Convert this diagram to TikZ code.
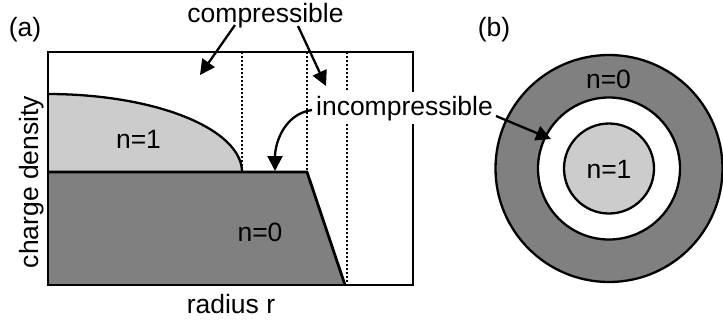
\documentclass[tikz,border=0pt]{standalone}
\usepackage{fontspec}
\setmainfont{Liberation Sans}
\usetikzlibrary{arrows.meta}
\definecolor{darkfill}{HTML}{808080}
\definecolor{lightfill}{HTML}{CCCCCC}
\begin{document}
\begin{tikzpicture}[x=1pt,y=-1pt,
  lbl/.style={inner sep=0pt, font=\fontsize{26.5}{30}\selectfont, anchor=base},
  arr/.style={line width=2.3pt, -{Triangle[length=15pt,width=15pt]}},
  dots/.style={line width=2.3pt, dash pattern=on 2pt off 2pt},
  edgeline/.style={line width=2.8pt},
  ring/.style={line width=2.3pt, draw=black}
]
\useasboundingbox (0,0) rectangle (723,322);

% ---------- panel (a) ----------
\fill[darkfill] (48,172) -- (307,172) -- (345,285) -- (48,285) -- cycle;
\fill[lightfill] plot[domain=0:90, samples=80] ({48+194*sin(\x)},{172-78*cos(\x)}) -- (48,172) -- cycle;
\draw[line width=2.3pt] plot[domain=0:90, samples=80] ({48+194*sin(\x)},{172-78*cos(\x)});
\draw[edgeline, line join=miter] (48,172) -- (307,172) -- (345,285);

\draw[dots] (242,52) -- (242,172);
\draw[dots] (307,52) -- (307,172);
\draw[dots] (347,52) -- (347,285);

\draw[edgeline] (48,52) rectangle (413,285);

\node[lbl] (alabel) at (25,36.5) {(a)};
\node[lbl] (comp) at (265.5,22) {compressible};
\node[lbl, fill=white, inner xsep=2pt, inner ysep=3.5pt] (incomp) at (404.5,115) {incompressible};
\node[lbl] (n1a) at (138.5,148) {n=1};
\node[lbl] (n0a) at (260,241.5) {n=0};
\node[lbl] (radius) at (231,313) {radius r};
\node[lbl, rotate=90] (charge) at (38,182) {charge density};

\coordinate (cl0) at (235,25);
\coordinate (cl1) at (200,75);
\coordinate (cr0) at (298,26);
\coordinate (cr1) at (326,86);
\coordinate (il0) at (312,110);
\coordinate (il1) at (275,171);
\coordinate (ir0) at (496,116);
\coordinate (ir1) at (551,139);

\draw[arr] (cl0) -- (cl1);
\draw[arr] (cr0) -- (cr1);
\draw[arr] (il0) to[out=188,in=90] (il1);

% ---------- panel (b) ----------
\coordinate (ctr) at (609,168.5);
\draw[ring, fill=darkfill] (ctr) circle[radius=113.5];
\draw[ring, fill=white] (ctr) circle[radius=71];
\draw[ring, fill=lightfill] (ctr) circle[radius=45];

\draw[arr] (ir0) -- (ir1);

\node[lbl] (blabel) at (494,36.5) {(b)};
\node[lbl] (n0b) at (608.5,88) {n=0};
\node[lbl] (n1b) at (609,178) {n=1};
\end{tikzpicture}
\end{document}
